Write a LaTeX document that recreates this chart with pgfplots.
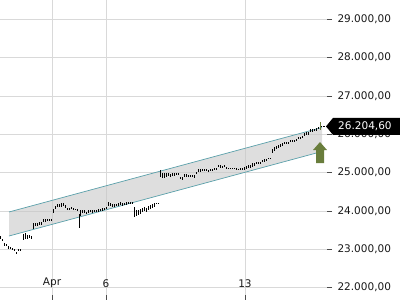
\documentclass[border=0pt]{standalone}
\usepackage{pgfplots}
\pgfplotsset{compat=1.18}
\usepackage{pgfplotstable}
\usepackage{fontspec}
\setmainfont{DejaVu Sans}
\definecolor{gridc}{RGB}{217,217,217}
\definecolor{chan}{RGB}{90,160,170}
\definecolor{chanfill}{RGB}{200,200,200}
\definecolor{olivec}{RGB}{105,125,60}

\pgfplotstableread{
x y e
0 23305 39
2 23240 39
4 23135 39
6 23109 26
8 23057 39
10 23031 26
12 23005 26
14 22979 26
16 22913 26
18 22979 13
20 22979 13
23 23318 78
25 23344 78
27 23318 52
29 23331 39
31 23318 39
33 23605 78
35 23644 39
37 23657 39
39 23670 39
41 23683 39
43 23736 39
45 23749 39
47 23762 26
49 23762 26
51 23762 13
53 23997 65
55 24101 39
57 24140 39
59 24153 39
61 24153 52
63 24179 39
65 24127 39
67 24049 39
69 24049 26
71 24075 26
73 24062 26
75 24036 13
77 24023 13
79 23736 170
80 23944 78
82 23971 39
84 23971 39
86 23957 26
88 23971 39
90 23984 26
92 23984 39
94 23997 26
96 23997 26
98 24010 39
100 24023 39
102 24036 39
104 24049 26
106 24075 26
108 24192 52
110 24166 39
112 24153 39
114 24153 39
116 24166 26
118 24179 39
120 24192 39
122 24179 39
124 24192 26
126 24205 39
128 24205 26
130 24218 26
132 24205 26
134 23971 130
136 23944 78
138 23957 65
140 23971 65
142 24023 65
144 24049 52
146 24023 52
148 24075 65
150 24101 52
152 24127 52
154 24153 52
156 24205 13
158 24205 13
160 24975 91
162 24936 65
164 24923 65
166 24936 52
168 24949 39
170 24936 39
172 24962 39
174 24949 39
176 24962 26
178 24962 26
180 24858 39
182 24845 39
184 24923 39
186 24936 39
188 24910 26
190 24910 26
192 24923 26
194 24897 39
196 25001 26
198 25041 39
200 25054 39
202 25067 26
204 25054 26
206 25054 26
208 25041 26
210 25054 26
212 25067 26
214 25093 26
216 25106 26
218 25171 26
220 25171 39
222 25145 26
224 25171 26
226 25132 26
228 25119 13
230 25119 13
232 25119 13
234 25119 13
236 25106 13
238 25093 13
240 25093 26
242 25093 26
244 25106 39
246 25145 39
248 25158 39
250 25171 39
252 25197 52
254 25223 39
256 25249 26
258 25262 26
260 25262 26
262 25302 26
264 25315 39
266 25328 39
268 25380 13
270 25380 13
272 25563 65
274 25615 52
276 25667 39
278 25693 39
280 25719 39
282 25732 39
284 25771 26
286 25784 26
288 25784 26
290 25811 26
292 25824 26
294 25824 26
296 25837 26
298 25902 26
300 25915 26
302 25928 26
304 26006 39
306 26019 39
308 26032 39
310 26085 39
312 26098 39
314 26111 39
316 26124 39
318 26163 26
}\bars

\begin{document}
\begin{tikzpicture}
\begin{axis}[
  scale only axis, width=327pt, height=300pt,
  xmin=0, xmax=327, ymin=21674, ymax=29504,
  axis line style={draw=none},
  xtick={52,106,245}, xticklabels={Apr,6,13},
  ytick={22000,23000,...,29000},
  scaled y ticks=false,
  grid=major, grid style={gridc, line width=0.7pt},
  xtick pos=bottom, ytick pos=right,
  xtick align=inside, ytick align=outside,
  major tick length=5pt,
  tick style={black!70, line width=0.6pt},
  ticklabel style={font=\fontsize{10.5}{12}\selectfont, text=black!90},
  xticklabel style={anchor=south, yshift=9pt},
  yticklabel style={xshift=2pt},
  y tick label style={/pgf/number format/fixed, /pgf/number format/fixed zerofill,
    /pgf/number format/precision=2, /pgf/number format/use comma,
    /pgf/number format/1000 sep={.}, /pgf/number format/assume math mode=true},
]
\addplot[draw=none, fill=chanfill, fill opacity=0.6] coordinates {(9,23971) (322,26176) (322,25550) (9,23344)} -- cycle;
\addplot[chan, line width=0.7pt] coordinates {(9,23971) (322,26176)};
\addplot[chan, line width=0.7pt] coordinates {(9,23344) (322,25550)};
\addplot[draw=none, mark=none, error bars/.cd, y dir=both, y explicit, error mark=none,
  error bar style={draw=black, solid, line width=0.85pt}] table[x=x, y=y, y error=e] {\bars};
\addplot[draw=none, mark=none, error bars/.cd, y dir=both, y explicit, error mark=none,
  error bar style={draw=olivec, solid, line width=1pt}] coordinates {(320,26215) +- (0,104)};
\addplot[black, densely dotted, line width=0.6pt] coordinates {(321,26204.6) (327,26204.6)};
\coordinate (A) at (axis cs:320,25797);
\coordinate (P) at (axis cs:326,26204.6);
\coordinate (BL) at (rel axis cs:0,0);
\coordinate (TL) at (rel axis cs:0,1);
\end{axis}
\fill[olivec] (A) -- ++(7pt,-8pt) -- ++(-3pt,0) -- ++(0,-13pt) -- ++(-8pt,0) -- ++(0,13pt) -- ++(-3pt,0) -- cycle;
\fill[black] (P) -- ++(7pt,8.5pt) -- ++(67pt,0) -- ++(0,-17pt) -- ++(-67pt,0) -- cycle;
\node[anchor=west, text=white, font=\fontsize{10.5}{12}\selectfont, inner sep=0pt] at ([xshift=12pt]P) {26.204,60};
\pgfresetboundingbox
\path (BL) rectangle ([xshift=400pt]TL);
\end{tikzpicture}
\end{document}
